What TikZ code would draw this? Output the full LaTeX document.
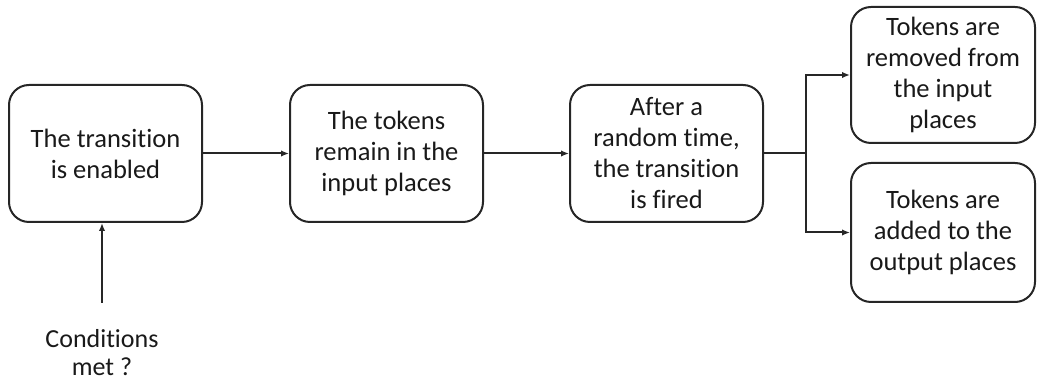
\documentclass[tikz,border=0pt]{standalone}
\usepackage{fontspec}
\setmainfont{Carlito}[Ligatures=NoCommon]
\usetikzlibrary{arrows.meta}
\tikzset{
  box/.style={draw=black!85, line width=2pt, rounded corners=20pt, align=center,
    minimum width=193pt, minimum height=137pt, inner sep=0pt,
    font=\fontsize{26.5pt}{31pt}\selectfont, text=black!90},
  conn/.style={line width=2pt, draw=black!85, -{Latex[length=8pt,width=6.5pt]}},
  plain/.style={line width=2pt, draw=black!85}
}
\begin{document}
\begin{tikzpicture}[x=1pt,y=1pt]
\useasboundingbox (0,0) rectangle (1037,385);
\node[box] (b1) at (105.5,231.5) {The transition\\is enabled};
\node[box] (b2) at (386.5,231.5) {The tokens\\remain in the\\input places};
\node[box] (b3) at (666.5,231.5) {After a\\random time,\\the transition\\is fired};
\node[box, minimum width=184pt, minimum height=136pt] (b4) at (943,310) {Tokens are\\removed from\\the input\\places};
\node[box, minimum width=184pt, minimum height=139pt] (b5) at (943,152.5) {Tokens are\\added to the\\output places};
\node[align=center, font=\fontsize{26pt}{28pt}\selectfont, text=black!90] (cond) at (102,32) {Conditions\\met ?};
\coordinate (c1) at (102,82);
\coordinate (j) at (806,231.5);
\draw[conn] (b1) -- (b2);
\draw[conn] (b2) -- (b3);
\draw[plain] (b3.east) -- (j);
\draw[conn] (j) |- (b4.west);
\draw[conn] (j) |- (b5.west);
\draw[conn] (c1) -- (c1 |- b1.south);
\end{tikzpicture}
\end{document}
